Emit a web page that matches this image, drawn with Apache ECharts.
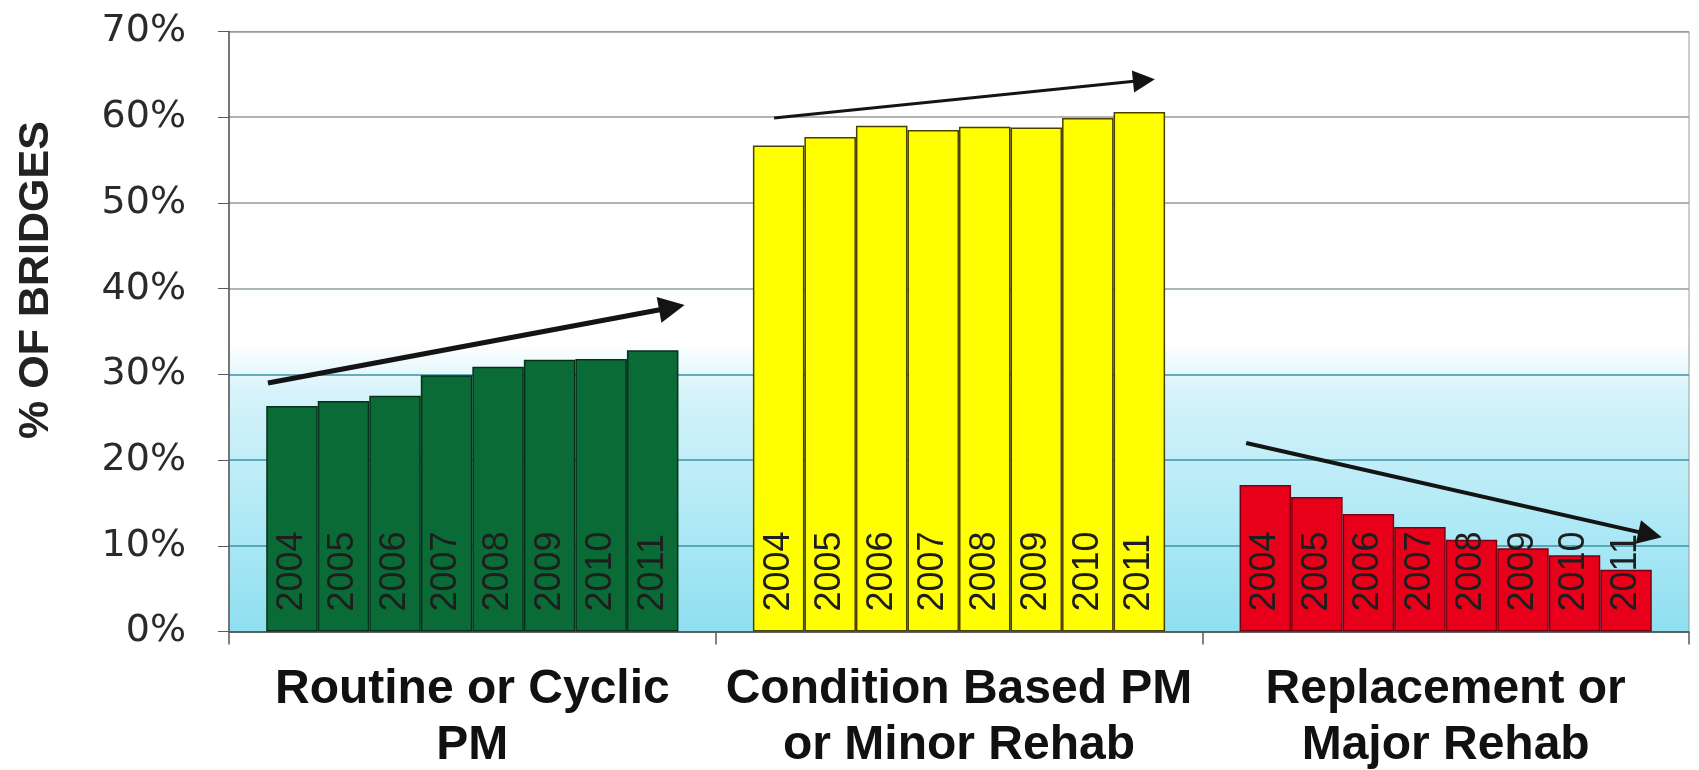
<!DOCTYPE html>
<html>
<head>
<meta charset="utf-8">
<script src="https://cdn.jsdelivr.net/npm/echarts@6/dist/echarts.min.js"></script>
<style>
html,body{margin:0;padding:0;background:#fff;}
#chart{width:1699px;height:770px;}
</style>
</head>
<body>
<div id="chart"></div>
<script>
// ---- data ----
var categories = ['Routine or Cyclic\nPM', 'Condition Based PM\nor Minor Rehab', 'Replacement or\nMajor Rehab'];
var years = ['2004','2005','2006','2007','2008','2009','2010','2011'];
var routineValues     = [26.3, 26.9, 27.5, 29.9, 30.9, 31.7, 31.8, 32.8];
var conditionValues   = [56.7, 57.7, 59.0, 58.5, 58.9, 58.8, 59.9, 60.6];
var replacementValues = [17.1, 15.7, 13.7, 12.2, 10.7, 9.7, 8.9, 7.2];
var yTicks = [0, 10, 20, 30, 40, 50, 60, 70];
// trend arrows: [category position (0..3), percent]
var arrowRoutine     = [[0.08, 29.0], [0.91, 37.8]];
var arrowCondition   = [[1.12, 59.9], [1.88, 64.3]];
var arrowReplacement = [[2.09, 22.0], [2.92, 11.3]];

var groupColors  = ['#0a6b36', '#ffff00', '#e8001a'];
var groupBorders = ['#06301a', '#4a4200', '#7a0010'];

var chart = echarts.init(document.getElementById('chart'));

var barSeries = years.map(function (yr, i) {
  var vals = [routineValues[i], conditionValues[i], replacementValues[i]];
  return {
    type: 'bar',
    name: yr,
    barGap: '0%',
    barCategoryGap: '15.3%',
    data: vals.map(function (v, g) {
      return { value: v, itemStyle: { color: groupColors[g], borderColor: groupBorders[g], borderWidth: 1.5 } };
    }),
    label: {
      show: true,
      formatter: '{a}',
      position: 'insideBottom',
      rotate: 90,
      align: 'left',
      verticalAlign: 'middle',
      distance: 20,
      fontFamily: 'Liberation Sans, Arial, sans-serif',
      fontSize: 36,
      color: '#1e1e1e'
    },
    emphasis: { disabled: true },
    silent: true,
    z: 2
  };
});

function arrowSeries(pts, width, headSize) {
  return {
    type: 'line',
    xAxisIndex: 1,
    data: [],
    silent: true,
    z: 5,
    markLine: {
      silent: true,
      symbol: ['none', 'triangle'],
      symbolSize: headSize,
      label: { show: false },
      lineStyle: { color: '#141414', width: width, type: 'solid' },
      itemStyle: { color: '#141414' },
      emphasis: { disabled: true },
      animation: false,
      data: [[{ coord: pts[0] }, { coord: pts[1] }]]
    }
  };
}

var option = {
  animation: false,
  backgroundColor: '#ffffff',
  grid: {
    left: 229, right: 10, top: 31.5, bottom: 138.5,
    outerBoundsMode: 'none',
    containLabel: false,
    show: true,
    borderColor: '#9a9a9a',
    borderWidth: 1,
    backgroundColor: {
      type: 'linear', x: 0, y: 0, x2: 0, y2: 1,
      colorStops: [
        { offset: 0, color: '#ffffff' },
        { offset: 0.52, color: '#ffffff' },
        { offset: 0.60, color: '#d6f3fa' },
        { offset: 0.80, color: '#b2eaf6' },
        { offset: 1, color: '#8fdff0' }
      ]
    }
  },
  xAxis: [{
    type: 'category',
    data: categories,
    axisLine: { show: true, lineStyle: { color: '#5a5a5a', width: 1.5 } },
    axisTick: { show: true, length: 13, lineStyle: { color: '#5a5a5a', width: 1.5 } },
    axisLabel: {
      interval: 0,
      margin: 30,
      fontFamily: 'Liberation Sans, Arial, sans-serif',
      fontWeight: 'bold',
      fontSize: 48,
      lineHeight: 56,
      color: '#111'
    }
  }, {
    type: 'value',
    min: 0, max: 3,
    show: false
  }],
  yAxis: {
    type: 'value',
    min: 0, max: 70, interval: 10,
    axisLine: { show: true, lineStyle: { color: '#5a5a5a', width: 1.5 } },
    axisTick: { show: true, length: 11, lineStyle: { color: '#5a5a5a' } },
    axisLabel: {
      formatter: '{value}%',
      margin: 43,
      fontFamily: 'DejaVu Sans, sans-serif',
      fontSize: 38,
      color: '#2a2a2a'
    },
    splitLine: {
      show: true,
      lineStyle: {
        color: ['#5a5a5a', '#3a93a5', '#3a93a5', '#3a93a5', '#8d9ea3', '#9a9a9a', '#9a9a9a', '#9a9a9a'],
        width: 1.5
      }
    }
  },
  graphic: [{
    type: 'text',
    x: 36, y: 280,
    rotation: Math.PI / 2,
    style: {
      text: '% OF BRIDGES',
      fontFamily: 'Liberation Sans, Arial, sans-serif',
      fontWeight: 'bold',
      fontSize: 43,
      fill: '#222',
      textAlign: 'center',
      textVerticalAlign: 'middle'
    }
  }],
  series: barSeries.concat([
    arrowSeries(arrowRoutine, 5, 26),
    arrowSeries(arrowCondition, 3, 22),
    arrowSeries(arrowReplacement, 4, 24)
  ])
};
chart.setOption(option);
</script>
</body>
</html>
